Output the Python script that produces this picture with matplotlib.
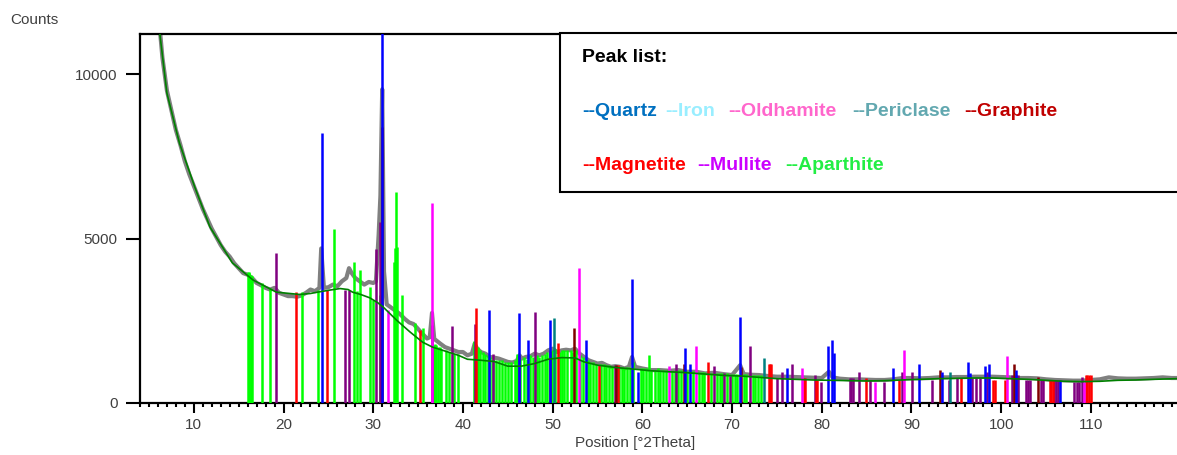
import matplotlib
matplotlib.use("Agg")
import matplotlib.pyplot as plt
from matplotlib.patches import Rectangle
from matplotlib.ticker import MultipleLocator

plt.rcParams['font.family'] = ['Liberation Sans', 'DejaVu Sans']

obs_x = [6.2, 6.5, 7.0, 7.5, 8.0, 8.5, 9.0, 9.5, 10, 10.5, 11, 11.5, 12, 12.5, 13, 13.5,
         14, 14.5, 15, 15.5, 16, 16.5, 17, 17.5, 18, 18.5, 19, 19.5, 20, 20.5, 21, 21.5,
         22, 22.5, 23, 23.5, 24, 24.2, 24.5, 25, 25.5, 26, 26.5, 27, 27.3, 27.6, 28, 28.5,
         29, 29.5, 30.0, 30.3, 30.6, 30.8, 31.0, 31.2, 31.5, 32, 32.5, 33, 33.5, 34, 34.5,
         35, 35.5, 36, 36.3, 36.55, 36.8, 37.5, 38, 38.5, 39, 39.5, 40, 40.5, 41, 41.3,
         41.6, 42, 42.5, 43, 43.5, 44, 44.5, 45, 45.5, 46, 46.3, 46.6, 47, 47.5, 48, 48.5,
         49, 49.5, 50, 50.5, 51, 51.5, 52, 52.5, 53, 53.5, 54, 54.5, 55, 55.5, 56, 56.5,
         57, 57.5, 58, 58.5, 58.85, 59.2, 60, 61, 62, 63, 64, 65, 66, 67, 68, 69, 70, 70.9,
         71.3, 72, 73, 74, 75, 76, 77, 78, 79, 80, 80.8, 81.2, 82, 83, 84, 85, 86, 87, 88,
         89, 90, 91, 92, 93, 94, 95, 96, 97, 98, 99, 100, 101, 102, 103, 104, 105, 106,
         107, 108, 109, 110, 111, 112, 113, 114, 115, 116, 117, 118, 119, 119.6]
obs_y = [11400, 10500, 9500, 8900, 8300, 7850, 7350, 6950, 6600, 6250, 5900, 5600, 5300, 5050,
         4800, 4600, 4450, 4250, 4100, 3950, 3900, 3800, 3650, 3580, 3500, 3450, 3500, 3350,
         3300, 3250, 3250, 3230, 3270, 3350, 3450, 3400, 3500, 4700, 3500, 3520, 3600, 3550,
         3700, 3800, 4100, 3950, 3800, 3700, 3600, 3680, 3650, 3700, 5100, 6300, 9540, 4000,
         3000, 2900, 2800, 2700, 2560, 2450, 2400, 2250, 2100, 1960, 2000, 2740, 1950, 1800,
         1700, 1650, 1600, 1550, 1550, 1450, 1500, 1800, 1650, 1550, 1500, 1400, 1380, 1350,
         1300, 1250, 1230, 1280, 1450, 1350, 1400, 1420, 1500, 1450, 1500, 1600, 1650, 1550,
         1600, 1620, 1600, 1650, 1500, 1400, 1300, 1250, 1200, 1220, 1150, 1100, 1120, 1100,
         1050, 1100, 1400, 1100, 1050, 1000, 1000, 980, 1000, 950, 950, 900, 920, 880, 850,
         1150, 880, 860, 850, 820, 800, 800, 790, 780, 770, 760, 950, 780, 740, 720, 720,
         710, 700, 700, 720, 760, 760, 750, 760, 780, 780, 790, 790, 800, 800, 800, 790, 780,
         760, 760, 750, 720, 700, 690, 680, 680, 700, 720, 780, 750, 740, 740, 750, 760, 780,
         760, 760]

# fitted background (green)
bg_x = [6.2, 7.0, 8.4, 10.1, 11.8, 14.3, 16.6, 19.2, 21.8, 23, 24, 25.1, 26.3, 27.2, 27.7, 28.6,
        29.6, 30.5, 31.1, 32.6, 34.1, 35.5, 36.6, 38, 39.5, 40.5, 42, 43.5, 45, 46.5, 48,
        49.5, 51, 52.5, 53.5, 55, 57, 59, 61, 63, 65, 67, 69, 71, 73, 75, 77, 79, 81, 83, 85,
        87, 89, 91, 93, 95, 97, 99, 101, 103, 105, 107, 109, 111, 113, 115, 117, 119.6]
bg_y = [11250, 9420, 7900, 6570, 5350, 4260, 3740, 3370, 3300, 3330, 3380, 3430, 3480, 3450,
        3370, 3300, 3200, 3050, 2920, 2520, 2160, 1850, 1700, 1580, 1450, 1330, 1300, 1260,
        1120, 1120, 1200, 1330, 1380, 1370, 1250, 1150, 1080, 1030, 980, 950, 920, 880, 840,
        820, 780, 740, 720, 700, 690, 680, 670, 680, 700, 720, 740, 750, 760, 760, 740, 720,
        690, 660, 650, 660, 690, 700, 720, 740]

# reference stick positions / heights per phase
quartz_x = [24.3, 31.0, 42.9, 46.2, 47.3, 49.7, 53.7, 58.85, 59.5, 64.7, 65.3, 70.9, 76.1,
            80.7, 81.1, 81.4, 87.9, 90.8, 93.4, 96.3, 96.5, 98.2, 98.6, 101.7, 106.6]
quartz_y = [8200, 12500, 2830, 2740, 1920, 2520, 1920, 3770, 950, 1680, 1190, 2600, 1070,
            1740, 1920, 1520, 1070, 1190, 950, 1260, 920, 1140, 1190, 1000, 700]

oldhamite_x = [31.6, 36.6, 52.9, 63.0, 66.0, 77.85, 85.9, 89.2, 100.6, 109.2]
oldhamite_y = [2830, 6080, 4100, 1120, 1740, 1070, 650, 1610, 1440, 650]

periclase_x = [50.2, 73.6, 94.3]
periclase_y = [2590, 1380, 950]

graphite_x = [31.0, 49.7, 52.4, 57.1, 64.6, 71.0, 93.2, 101.4, 104.1]
graphite_y = [8390, 1570, 2280, 1160, 1190, 1100, 1000, 1190, 800]

magnetite_x = [21.4, 24.8, 35.25, 41.5, 50.6, 55.2, 57.3, 67.35, 74.1, 74.2, 74.3, 78.0, 78.1,
               79.4, 79.5, 84.9, 88.6, 95.5, 99.1, 99.3, 100.4, 105.4, 105.6, 105.8, 109.4,
               109.6, 109.8, 110.0]
magnetite_y = [3380, 3430, 2220, 2890, 1820, 1160, 1160, 1260, 1200, 1200, 1200, 760, 760,
               700, 700, 760, 700, 760, 700, 700, 700, 700, 700, 700, 850, 850, 850, 850]

mullite_x = [19.2, 26.8, 27.3, 30.3, 30.75, 36.5, 38.8, 41.3, 43.3, 46.3, 48.0, 56.9, 63.75,
             68.0, 69.1, 69.8, 72.0, 75.0, 75.6, 76.7, 79.2, 79.9, 83.1, 83.3, 83.5, 84.1,
             85.4, 86.9, 88.9, 90.1, 92.3, 94.2, 95.1, 96.8, 97.2, 97.6, 98.4, 101.2, 101.6,
             101.9, 102.8, 103.0, 103.2, 104.4, 104.7, 105.9, 106.1, 106.3, 108.1, 108.4,
             108.7, 109.0]
mullite_y = [4560, 3430, 3430, 4680, 5500, 2370, 2340, 2400, 1490, 1460, 2780, 1160, 1190,
             1140, 920, 820, 1740, 760, 930, 1190, 850, 650, 760, 760, 760, 950, 700, 650,
             950, 950, 700, 700, 760, 760, 760, 760, 950, 850, 850, 850, 700, 700, 700, 700,
             700, 700, 700, 700, 650, 650, 650, 800]

aparthite_x = [16.0, 16.1, 16.2, 16.35, 16.5, 17.6, 18.5, 22.1, 23.85, 25.6, 27.8, 28.2, 28.5,
               29.6, 30.0, 30.7, 32.3, 32.4, 32.55, 32.7, 33.2, 34.6, 35.5, 36.8, 36.9, 37.0,
               37.2, 37.4, 37.6, 38.1, 38.4, 39.0, 39.4, 41.2, 41.5, 41.7, 41.9, 42.2, 42.5,
               42.8, 43.0, 43.4, 43.7, 44.0, 44.3, 44.7, 45.0, 45.4, 45.8, 46.0, 46.4, 46.8,
               47.1, 47.5, 47.8, 48.2, 48.5, 48.8, 49.1, 49.4, 49.9, 50.3, 50.8, 51.0, 51.3,
               51.6, 52.0, 52.2, 52.6, 53.1, 53.4, 53.9, 54.2, 54.5, 54.8, 55.4, 55.7, 56.0,
               56.3, 56.6, 57.4, 57.7, 58.0, 58.3, 58.6, 59.0, 59.8, 60.1, 60.4, 60.7, 61.0,
               61.4, 61.7, 62.0, 62.3, 62.6, 63.3, 63.6, 64.0, 64.3, 65.0, 65.6, 66.3, 66.6,
               66.9, 67.6, 68.3, 68.6, 68.9, 69.4, 70.0, 70.3, 70.6, 71.3, 71.6, 72.3, 72.6,
               72.9, 73.2]
aparthite_y = [3990, 3990, 3950, 3900, 3850, 3650, 3500, 3380, 3430, 5290, 4300, 3400, 4040,
               3540, 3130, 3280, 4300, 4700, 6410, 4750, 3280, 2430, 2280, 1760, 1800, 1750,
               1700, 1700, 1650, 1600, 1550, 1500, 1500, 1900, 1750, 1700, 1600, 1550, 1500,
               1450, 1400, 1350, 1300, 1300, 1300, 1250, 1250, 1250, 1300, 1500, 1350, 1400,
               1350, 1450, 1400, 1450, 1400, 1450, 1500, 1550, 1600, 1650, 1550, 1600, 1600,
               1600, 1600, 1550, 1600, 1450, 1400, 1300, 1250, 1250, 1200, 1200, 1200, 1150,
               1150, 1100, 1100, 1100, 1050, 1100, 1100, 1250, 1050, 1050, 1050, 1460, 1000,
               1000, 1050, 1000, 1000, 1000, 980, 980, 1000, 1000, 980, 960, 950, 950, 950,
               920, 920, 920, 900, 900, 880, 880, 880, 880, 870, 860, 860, 850, 850]

phases = [
    ("Aparthite", aparthite_x, aparthite_y, "#00FF00"),
    ("Mullite", mullite_x, mullite_y, "#800080"),
    ("Magnetite", magnetite_x, magnetite_y, "#FF0000"),
    ("Periclase", periclase_x, periclase_y, "#008080"),
    ("Oldhamite", oldhamite_x, oldhamite_y, "#FF00FF"),
    ("Graphite", graphite_x, graphite_y, "#800000"),
    ("Quartz", quartz_x, quartz_y, "#0000FF"),
]

fig = plt.figure(figsize=(11.77, 4.55), dpi=100)
ax = fig.add_axes([140 / 1177, 1 - 403 / 455, 1037 / 1177, (403 - 34) / 455])

ax.plot(obs_x, obs_y, color="#808080", lw=3.0, zorder=2)
for name, xs, ys, col in phases:
    ax.vlines(xs, 0, ys, colors=col, lw=1.8, zorder=3)
ax.plot(bg_x, bg_y, color="#008000", lw=1.2, zorder=4)

ax.set_xlim(4.0, 119.6)
ax.set_ylim(0, 11220)
ax.set_yticks([0, 5000, 10000])
ax.xaxis.set_minor_locator(MultipleLocator(1))
ax.set_xticks([10, 20, 30, 40, 50, 60, 70, 80, 90, 100, 110])
ax.tick_params(axis="both", which="major", labelsize=11, labelcolor="#404040",
               width=1.5, color="black")
ax.tick_params(axis="y", length=10, pad=6)
ax.tick_params(axis="x", which="major", length=7, pad=4)
ax.tick_params(axis="x", which="minor", length=3, width=1.5)
for s in ["left", "bottom", "top"]:
    ax.spines[s].set_linewidth(1.6)
ax.spines["right"].set_visible(False)

fig.text(10 / 1177, 1 - 20 / 455, "Counts", fontsize=11, color="#404040", va="center")
fig.text(635 / 1177, 1 - 443 / 455, "Position [°2Theta]", fontsize=11, color="#404040",
         ha="center", va="center")

# peak list box
fig.patches.append(Rectangle((560 / 1177, 1 - 192 / 455), 0.6, (192 - 33) / 455,
                             transform=fig.transFigure, facecolor="white",
                             edgecolor="black", lw=1.5, zorder=5))
fig.text(582 / 1177, 1 - 58 / 455, "Peak list:", fontsize=14, fontweight="bold",
         color="black", va="center", zorder=6)
row1 = [("--Quartz", 582, "#0070C0"), ("--Iron", 665, "#99EEFF"),
        ("--Oldhamite", 728, "#FF66CC"), ("--Periclase", 852, "#62A8B0"),
        ("--Graphite", 964, "#C00000")]
row2 = [("--Magnetite", 582, "#FF0000"), ("--Mullite", 697, "#CC00FF"),
        ("--Aparthite", 785, "#22EE44")]
for txt, px, col in row1:
    fig.text(px / 1177, 1 - 111 / 455, txt, fontsize=14, fontweight="bold",
             color=col, va="center", zorder=6)
for txt, px, col in row2:
    fig.text(px / 1177, 1 - 166 / 455, txt, fontsize=14, fontweight="bold",
             color=col, va="center", zorder=6)

fig.savefig("out.png", dpi=100)
